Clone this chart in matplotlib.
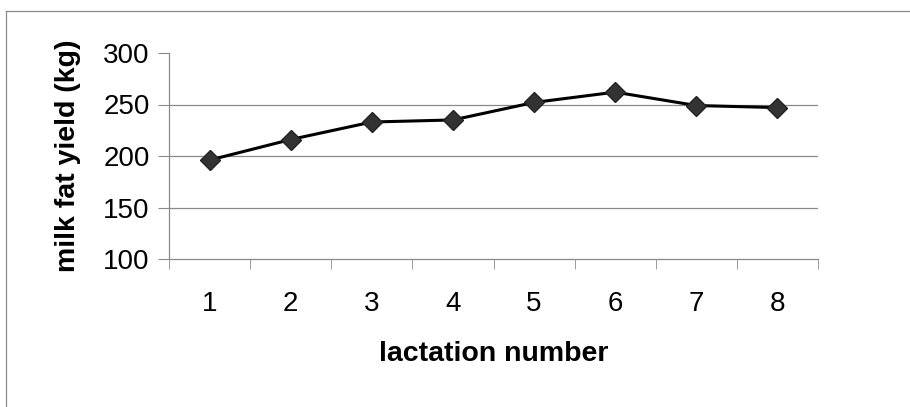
import matplotlib.pyplot as plt
from matplotlib.lines import Line2D

lactation = [1, 2, 3, 4, 5, 6, 7, 8]
fat_yield = [196, 216, 233, 235, 252, 262, 249, 247]
y_ticks = [100, 150, 200, 250, 300]

plt.rcParams['font.family'] = ['Liberation Sans', 'DejaVu Sans']

fig = plt.figure(figsize=(9.1, 4.07), dpi=100)
W, H = 910, 407
ax = fig.add_axes([169 / W, 1 - 259 / H, (818 - 169) / W, (259 - 53) / H])

# gridlines (no line at 300 in the original)
for v in [150, 200, 250]:
    ax.axhline(v, color='#8a8a8a', lw=0.9, zorder=1)

ax.plot(lactation, fat_yield, color='black', lw=2.2, marker='D', markersize=10,
        markerfacecolor='#333333', markeredgecolor='#222222', zorder=3)

ax.set_xlim(0.5, 8.5)
ax.set_ylim(100, 300)
ax.set_yticks(y_ticks)
ax.set_xticks(lactation)
ax.set_xticks([x + 0.5 for x in range(0, 9)], minor=True)
ax.tick_params(axis='x', which='major', length=0, labelsize=20, pad=23)
ax.tick_params(axis='x', which='minor', length=7, color='#8a8a8a', direction='out')
ax.tick_params(axis='y', length=8, color='#8a8a8a', labelsize=20, pad=6)

for s in ['top', 'right']:
    ax.spines[s].set_visible(False)
for s in ['left', 'bottom']:
    ax.spines[s].set_color('#8a8a8a')
    ax.spines[s].set_linewidth(0.9)

ax.set_xlabel('lactation number', fontsize=20.5, fontweight='bold', labelpad=17)
ax.set_ylabel('milk fat yield (kg)', fontsize=20.5, fontweight='bold', labelpad=16)

# outer chart frame (cropped at right and bottom)
fig.add_artist(Line2D([6 / W, 1], [1 - 11 / H, 1 - 11 / H], color='#8a8a8a', lw=0.9))
fig.add_artist(Line2D([6 / W, 6 / W], [0, 1 - 11 / H], color='#8a8a8a', lw=0.9))

fig.savefig('out.png', dpi=100)
